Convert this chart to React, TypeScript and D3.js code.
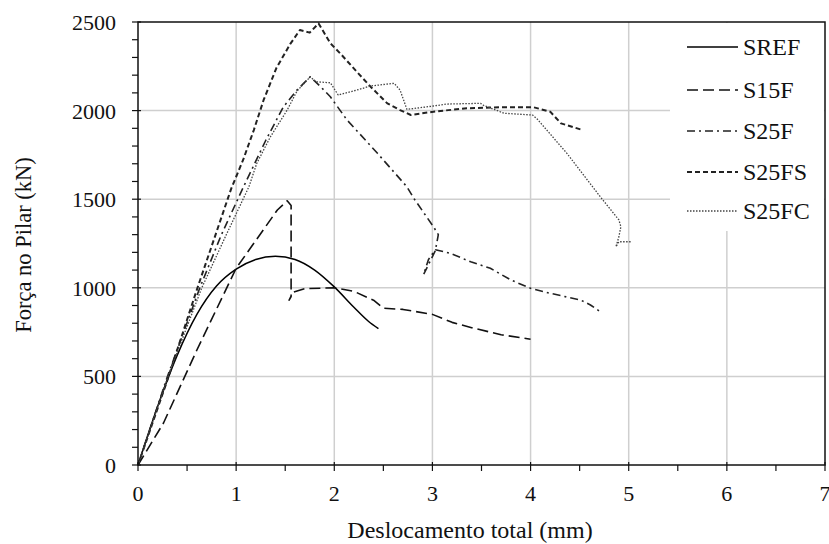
import React, { useEffect, useRef } from "react";
import * as d3 from "d3";

// displacement (mm) / force (kN)
const srefX = [0, 0.2, 0.4, 0.6, 0.8, 1.0, 1.2, 1.4, 1.6, 1.8, 2.0, 2.2, 2.35, 2.45];
const srefY = [0, 330, 620, 850, 1010, 1105, 1160, 1178, 1160, 1100, 1005, 890, 810, 770];

const s15fX = [0, 0.26, 0.6, 1.0, 1.42, 1.52, 1.56, 1.56, 1.54, 1.58, 1.7, 2.0, 2.2, 2.4, 2.5, 2.7, 3.0, 3.2, 3.4, 3.7, 4.0];
const s15fY = [0, 237, 649, 1110, 1439, 1491, 1465, 950, 930, 975, 995, 1000, 980, 930, 885, 878, 850, 805, 775, 735, 710];

const s25fX = [0, 0.3, 0.63, 0.85, 1.075, 1.3, 1.48, 1.62, 1.755, 1.86, 1.96, 2.13, 2.44, 2.74, 2.81, 3.01, 3.06, 3.03, 2.91, 2.96, 3.03, 3.18, 3.39, 3.59, 3.8, 4.0, 4.2, 4.51, 4.61, 4.71];
const s25fY = [0, 500, 1000, 1300, 1570, 1830, 2020, 2116, 2191, 2135, 2078, 1947, 1759, 1570, 1505, 1345, 1300, 1210, 1075, 1160, 1215, 1195, 1147, 1110, 1044, 997, 969, 931, 903, 865];

const s25fsX = [0, 0.3, 0.6, 0.95, 1.07, 1.18, 1.28, 1.41, 1.55, 1.65, 1.75, 1.84, 1.96, 2.06, 2.23, 2.37, 2.54, 2.67, 2.78, 3.01, 3.35, 3.69, 4.03, 4.2, 4.31, 4.53];
const s25fsY = [0, 480, 990, 1560, 1720, 1890, 2060, 2240, 2375, 2455, 2440, 2492, 2380, 2323, 2219, 2135, 2041, 2003, 1975, 1994, 2013, 2019, 2019, 1994, 1928, 1890];

const s25fcX = [0, 0.3, 0.65, 0.9, 1.13, 1.21, 1.35, 1.52, 1.62, 1.755, 1.81, 1.96, 2.04, 2.23, 2.37, 2.61, 2.67, 2.74, 3.01, 3.15, 3.49, 3.52, 3.73, 4.02, 4.07, 4.37, 4.71, 4.9, 4.92, 4.9, 4.87, 4.9, 5.02];
const s25fcY = [0, 490, 1000, 1300, 1570, 1702, 1853, 2003, 2110, 2191, 2163, 2157, 2088, 2116, 2139, 2154, 2116, 2007, 2026, 2037, 2041, 2030, 1985, 1975, 1951, 1759, 1514, 1383, 1345, 1288, 1232, 1260, 1260];

const seriesNames = ["SREF", "S15F", "S25F", "S25FS", "S25FC"];
const xTicks = [0, 1, 2, 3, 4, 5, 6, 7];
const yTicks = [0, 500, 1000, 1500, 2000, 2500];

const App = () => {
  const ref = useRef<SVGSVGElement>(null);

  useEffect(() => {
    document.body.style.margin = "0";
    const svg = d3.select(ref.current);
    svg.selectAll("*").remove();

    const left = 138, right = 825, top = 22, bottom = 465;
    const x = d3.scaleLinear().domain([0, 7]).range([left, right]);
    const y = d3.scaleLinear().domain([0, 2500]).range([bottom, top]);
    const font = "\"Liberation Serif\", \"DejaVu Serif\", \"Times New Roman\", serif";

    // grid
    const grid = svg.append("g").attr("stroke", "#cfcfcf").attr("stroke-width", 1.5);
    xTicks.slice(1, -1).forEach((t) => {
      grid.append("line").attr("x1", x(t)).attr("x2", x(t)).attr("y1", top).attr("y2", bottom);
    });
    yTicks.slice(1, -1).forEach((t) => {
      grid.append("line").attr("x1", left).attr("x2", right).attr("y1", y(t)).attr("y2", y(t));
    });

    const styles = [
      { dash: null, width: 1.5, color: "#000" },
      { dash: "11,5", width: 1.6, color: "#111" },
      { dash: "8,4,2,4", width: 1.6, color: "#222" },
      { dash: "5,3", width: 2, color: "#222" },
      { dash: "1.5,1.5", width: 1.3, color: "#444" },
    ];
    const allX = [srefX, s15fX, s25fX, s25fsX, s25fcX];
    const allY = [srefY, s15fY, s25fY, s25fsY, s25fcY];

    const line = d3.line<[number, number]>().x((d) => x(d[0])).y((d) => y(d[1]));
    const curve = d3.line<[number, number]>().x((d) => x(d[0])).y((d) => y(d[1])).curve(d3.curveMonotoneX);

    allX.forEach((xs, i) => {
      const pts = xs.map((v, j) => [v, allY[i][j]] as [number, number]);
      const p = svg.append("path")
        .attr("d", i === 0 ? curve(pts) : line(pts))
        .attr("fill", "none")
        .attr("stroke", styles[i].color)
        .attr("stroke-width", styles[i].width)
        .attr("stroke-linejoin", "round");
      if (styles[i].dash) p.attr("stroke-dasharray", styles[i].dash);
    });

    // legend box
    svg.append("rect").attr("x", 670).attr("y", top + 1).attr("width", right - 671).attr("height", 208).attr("fill", "#fff");
    const legendY = [47, 90, 131, 172, 211];
    seriesNames.forEach((name, i) => {
      const ln = svg.append("line")
        .attr("x1", 687).attr("x2", 738)
        .attr("y1", legendY[i]).attr("y2", legendY[i])
        .attr("stroke", styles[i].color)
        .attr("stroke-width", styles[i].width);
      if (styles[i].dash) ln.attr("stroke-dasharray", styles[i].dash);
      svg.append("text")
        .attr("x", 743).attr("y", legendY[i] + 8)
        .style("font-family", font).style("font-size", "24px")
        .attr("fill", "#111")
        .text(name);
    });

    // frame
    svg.append("rect").attr("x", left).attr("y", top).attr("width", right - left).attr("height", bottom - top)
      .attr("fill", "none").attr("stroke", "#111").attr("stroke-width", 1.5);

    // ticks
    const ax = svg.append("g").attr("stroke", "#111").attr("stroke-width", 1.2);
    d3.range(0, 2501, 100).forEach((t) => {
      const major = t % 500 === 0;
      ax.append("line").attr("x1", left - 6).attr("x2", major ? left + 3 : left).attr("y1", y(t)).attr("y2", y(t));
    });
    d3.range(0, 7.01, 0.5).forEach((t) => {
      const major = Number.isInteger(t);
      ax.append("line").attr("x1", x(t)).attr("x2", x(t)).attr("y1", bottom + 6).attr("y2", major ? bottom - 3 : bottom);
    });

    yTicks.forEach((t) => {
      svg.append("text").attr("x", 116).attr("y", y(t) + 8)
        .attr("text-anchor", "end").style("font-family", font).style("font-size", "22px").attr("fill", "#111")
        .text(t);
    });
    xTicks.forEach((t) => {
      svg.append("text").attr("x", x(t)).attr("y", 501)
        .attr("text-anchor", "middle").style("font-family", font).style("font-size", "22px").attr("fill", "#111")
        .text(t);
    });

    svg.append("text").attr("x", 470).attr("y", 538)
      .attr("text-anchor", "middle").style("font-family", font).style("font-size", "24px").attr("fill", "#111")
      .text("Deslocamento total (mm)");
    svg.append("text").attr("transform", `translate(31,245) rotate(-90)`)
      .attr("text-anchor", "middle").style("font-family", font).style("font-size", "22.5px").attr("fill", "#111")
      .text("Força no Pilar (kN)");
  }, []);

  return <svg ref={ref} width={829} height={544} style={{ display: "block", background: "#fff" }} />;
};

export default App;
